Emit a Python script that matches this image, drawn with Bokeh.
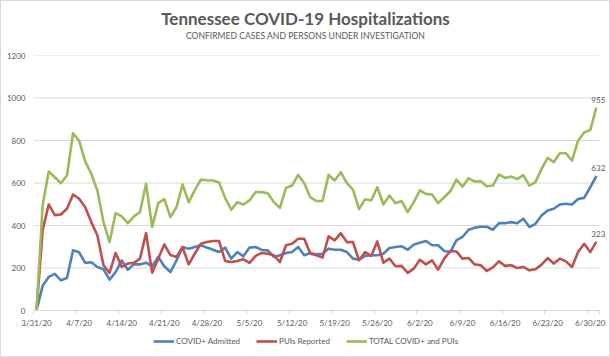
from bokeh.plotting import figure
from bokeh.layouts import column
from bokeh.models import FixedTicker, Legend, LegendItem, Label, ColumnDataSource
from bokeh.embed import file_html
from bokeh.resources import INLINE

tick_labels = ["3/31/20", "4/7/20", "4/14/20", "4/21/20", "4/28/20", "5/5/20", "5/12/20",
               "5/19/20", "5/26/20", "6/2/20", "6/9/20", "6/16/20", "6/23/20", "6/30/20"]
y_ticks = [0, 200, 400, 600, 800, 1000, 1200]

covid_admitted = [0, 116, 158, 172, 142, 153, 283, 274, 224, 227, 205, 194, 145, 181, 236, 192,
                  217, 217, 225, 208, 252, 208, 181, 236, 299, 291, 299, 307, 296, 286, 275, 296,
                  244, 275, 255, 296, 299, 285, 283, 252, 260, 271, 275, 299, 260, 271, 264, 267,
                  291, 286, 286, 275, 244, 239, 257, 260, 260, 267, 294, 299, 302, 286, 310, 319,
                  327, 307, 307, 280, 275, 330, 346, 380, 389, 394, 394, 380, 411, 411, 416, 411,
                  432, 393, 408, 447, 471, 479, 499, 502, 499, 525, 530, 580, 632]

puis_reported = [0, 377, 499, 449, 452, 479, 546, 526, 486, 416, 353, 213, 177, 271, 205, 221,
                 224, 244, 364, 178, 244, 311, 261, 252, 298, 217, 267, 314, 322, 327, 327, 233,
                 228, 233, 241, 224, 257, 271, 267, 260, 228, 307, 314, 338, 338, 267, 260, 249,
                 349, 330, 364, 322, 322, 236, 275, 257, 325, 225, 244, 208, 210, 177, 197, 239,
                 217, 236, 192, 244, 280, 278, 244, 247, 217, 213, 186, 203, 231, 210, 213, 200,
                 205, 189, 194, 216, 247, 221, 244, 231, 205, 275, 314, 275, 323]

total = [0, 494, 654, 627, 599, 635, 834, 799, 702, 643, 565, 416, 322, 458, 443, 411,
         443, 463, 596, 393, 505, 524, 440, 486, 593, 510, 565, 616, 613, 612, 602, 530,
         474, 510, 499, 518, 557, 557, 552, 510, 483, 577, 588, 638, 599, 533, 515, 515,
         638, 612, 651, 599, 569, 477, 524, 518, 580, 499, 541, 505, 515, 463, 510, 565,
         549, 546, 505, 533, 561, 616, 583, 622, 607, 608, 585, 588, 640, 624, 630, 618,
         637, 588, 604, 666, 718, 698, 740, 740, 705, 799, 838, 849, 955]

title_text = "Tennessee COVID-19 Hospitalizations"
subtitle_text = "CONFIRMED CASES AND PERSONS UNDER INVESTIGATION"
series_names = ["COVID+ Admitted", "PUIs Reported", "TOTAL COVID+ and PUIs"]
colors = ["#4F81BD", "#C0504D", "#9BBB59"]

n = len(total)
days = list(range(n))
FONT = "Lato"
TXT = "#595959"
GRID = "#D9D9D9"
SMALL = "8px"
W = 608
FRAME_L, FRAME_R = 32, 607   # plot frame edges (canvas px); column aligns all frames


def bare(fig):
    fig.outline_line_color = None
    fig.background_fill_color = "white"
    fig.border_fill_color = "white"
    for g in fig.grid:
        g.visible = False
    return fig


# ---- title strip (x range equals canvas pixels across the aligned frame) ----
t = bare(figure(width=W, height=44, output_backend="svg", toolbar_location=None,
                x_range=(FRAME_L, FRAME_R), y_range=(44, 0),
                x_axis_location=None, y_axis_location=None,
                min_border_left=FRAME_L, min_border_right=W - FRAME_R,
                min_border_top=0, min_border_bottom=0))
t.add_layout(Label(x=W / 2, y=17, text=title_text, text_font=FONT, text_font_size="17px",
                   text_font_style="bold", text_color=TXT, text_align="center",
                   text_baseline="middle"))
t.add_layout(Label(x=W / 2, y=34.5, text=subtitle_text, text_font=FONT, text_font_size="8.6px",
                   text_color=TXT, text_align="center", text_baseline="middle"))

# ---- main chart ----
p = bare(figure(width=W, height=289, output_backend="svg", toolbar_location=None,
                x_range=(-0.5, n + 1.0), y_range=(0, 1200),
                min_border_left=FRAME_L, min_border_right=W - FRAME_R,
                min_border_top=10, min_border_bottom=24))

p.segment(x0=[-0.5] * (len(y_ticks) - 1), x1=[n - 0.5] * (len(y_ticks) - 1),
          y0=y_ticks[1:], y1=y_ticks[1:], line_color=GRID, line_width=1)

sources = []
renderers = []
for vals, c in zip([covid_admitted, puis_reported, total], colors):
    src = ColumnDataSource(dict(x=days, y=vals))
    sources.append(src)
    r = p.line("x", "y", source=src, line_color=c, line_width=2.6, line_join="round")
    renderers.append(r)

p.xaxis.ticker = FixedTicker(ticks=[7 * k for k in range(len(tick_labels))],
                             minor_ticks=[7 * k - 0.5 for k in range(len(tick_labels))] + [n - 0.5])
p.xaxis.bounds = (-0.5, n - 0.5)
p.xaxis.major_label_overrides = {7 * k: lab for k, lab in enumerate(tick_labels)}
p.xaxis.major_tick_line_color = None
p.xaxis.major_tick_out = 0
p.xaxis.major_tick_in = 0
p.xaxis.minor_tick_line_color = GRID
p.xaxis.minor_tick_in = 0
p.xaxis.minor_tick_out = 4
p.xaxis.axis_line_color = GRID
p.xaxis.major_label_text_font = FONT
p.xaxis.major_label_text_font_size = SMALL
p.xaxis.major_label_text_color = TXT
p.xaxis.major_label_standoff = 3

p.yaxis.ticker = FixedTicker(ticks=y_ticks)
p.yaxis.axis_line_color = None
p.yaxis.major_tick_line_color = None
p.yaxis.major_tick_out = 0
p.yaxis.minor_tick_line_color = None
p.yaxis.major_label_text_font = FONT
p.yaxis.major_label_text_font_size = SMALL
p.yaxis.major_label_text_color = TXT
p.yaxis.major_label_standoff = 8

for vals in [covid_admitted, puis_reported, total]:
    p.add_layout(Label(x=n - 1, y=vals[-1], text=str(vals[-1]), text_font=FONT,
                       text_font_size=SMALL, text_color=TXT, text_align="center",
                       text_baseline="middle", x_offset=2, y_offset=8))

# ---- legend strip (same series, drawn out of view; only the legend shows) ----
lg = bare(figure(width=W, height=22, output_backend="svg", toolbar_location=None,
                 x_range=(0, 1), y_range=(-20, -10), x_axis_location=None, y_axis_location=None,
                 min_border_left=FRAME_L, min_border_right=W - FRAME_R,
                 min_border_top=0, min_border_bottom=0))
leg_renderers = [lg.line("x", "y", source=src, line_color=c, line_width=2.6)
                 for src, c in zip(sources, colors)]
legend = Legend(items=[LegendItem(label=nm, renderers=[r]) for nm, r in zip(series_names, leg_renderers)],
                orientation="horizontal", location=(120, 10),
                label_text_font=FONT, label_text_font_size=SMALL, label_text_color=TXT,
                glyph_width=21, glyph_height=10, label_height=10, label_standoff=2,
                spacing=16, padding=2, margin=0, border_line_color=None,
                background_fill_alpha=0)
lg.add_layout(legend, "center")

layout = column(t, p, lg, spacing=0)
layout.styles = {"border": "1px solid #D9D9D9"}

open("out.html", "w").write(file_html(layout, INLINE))
